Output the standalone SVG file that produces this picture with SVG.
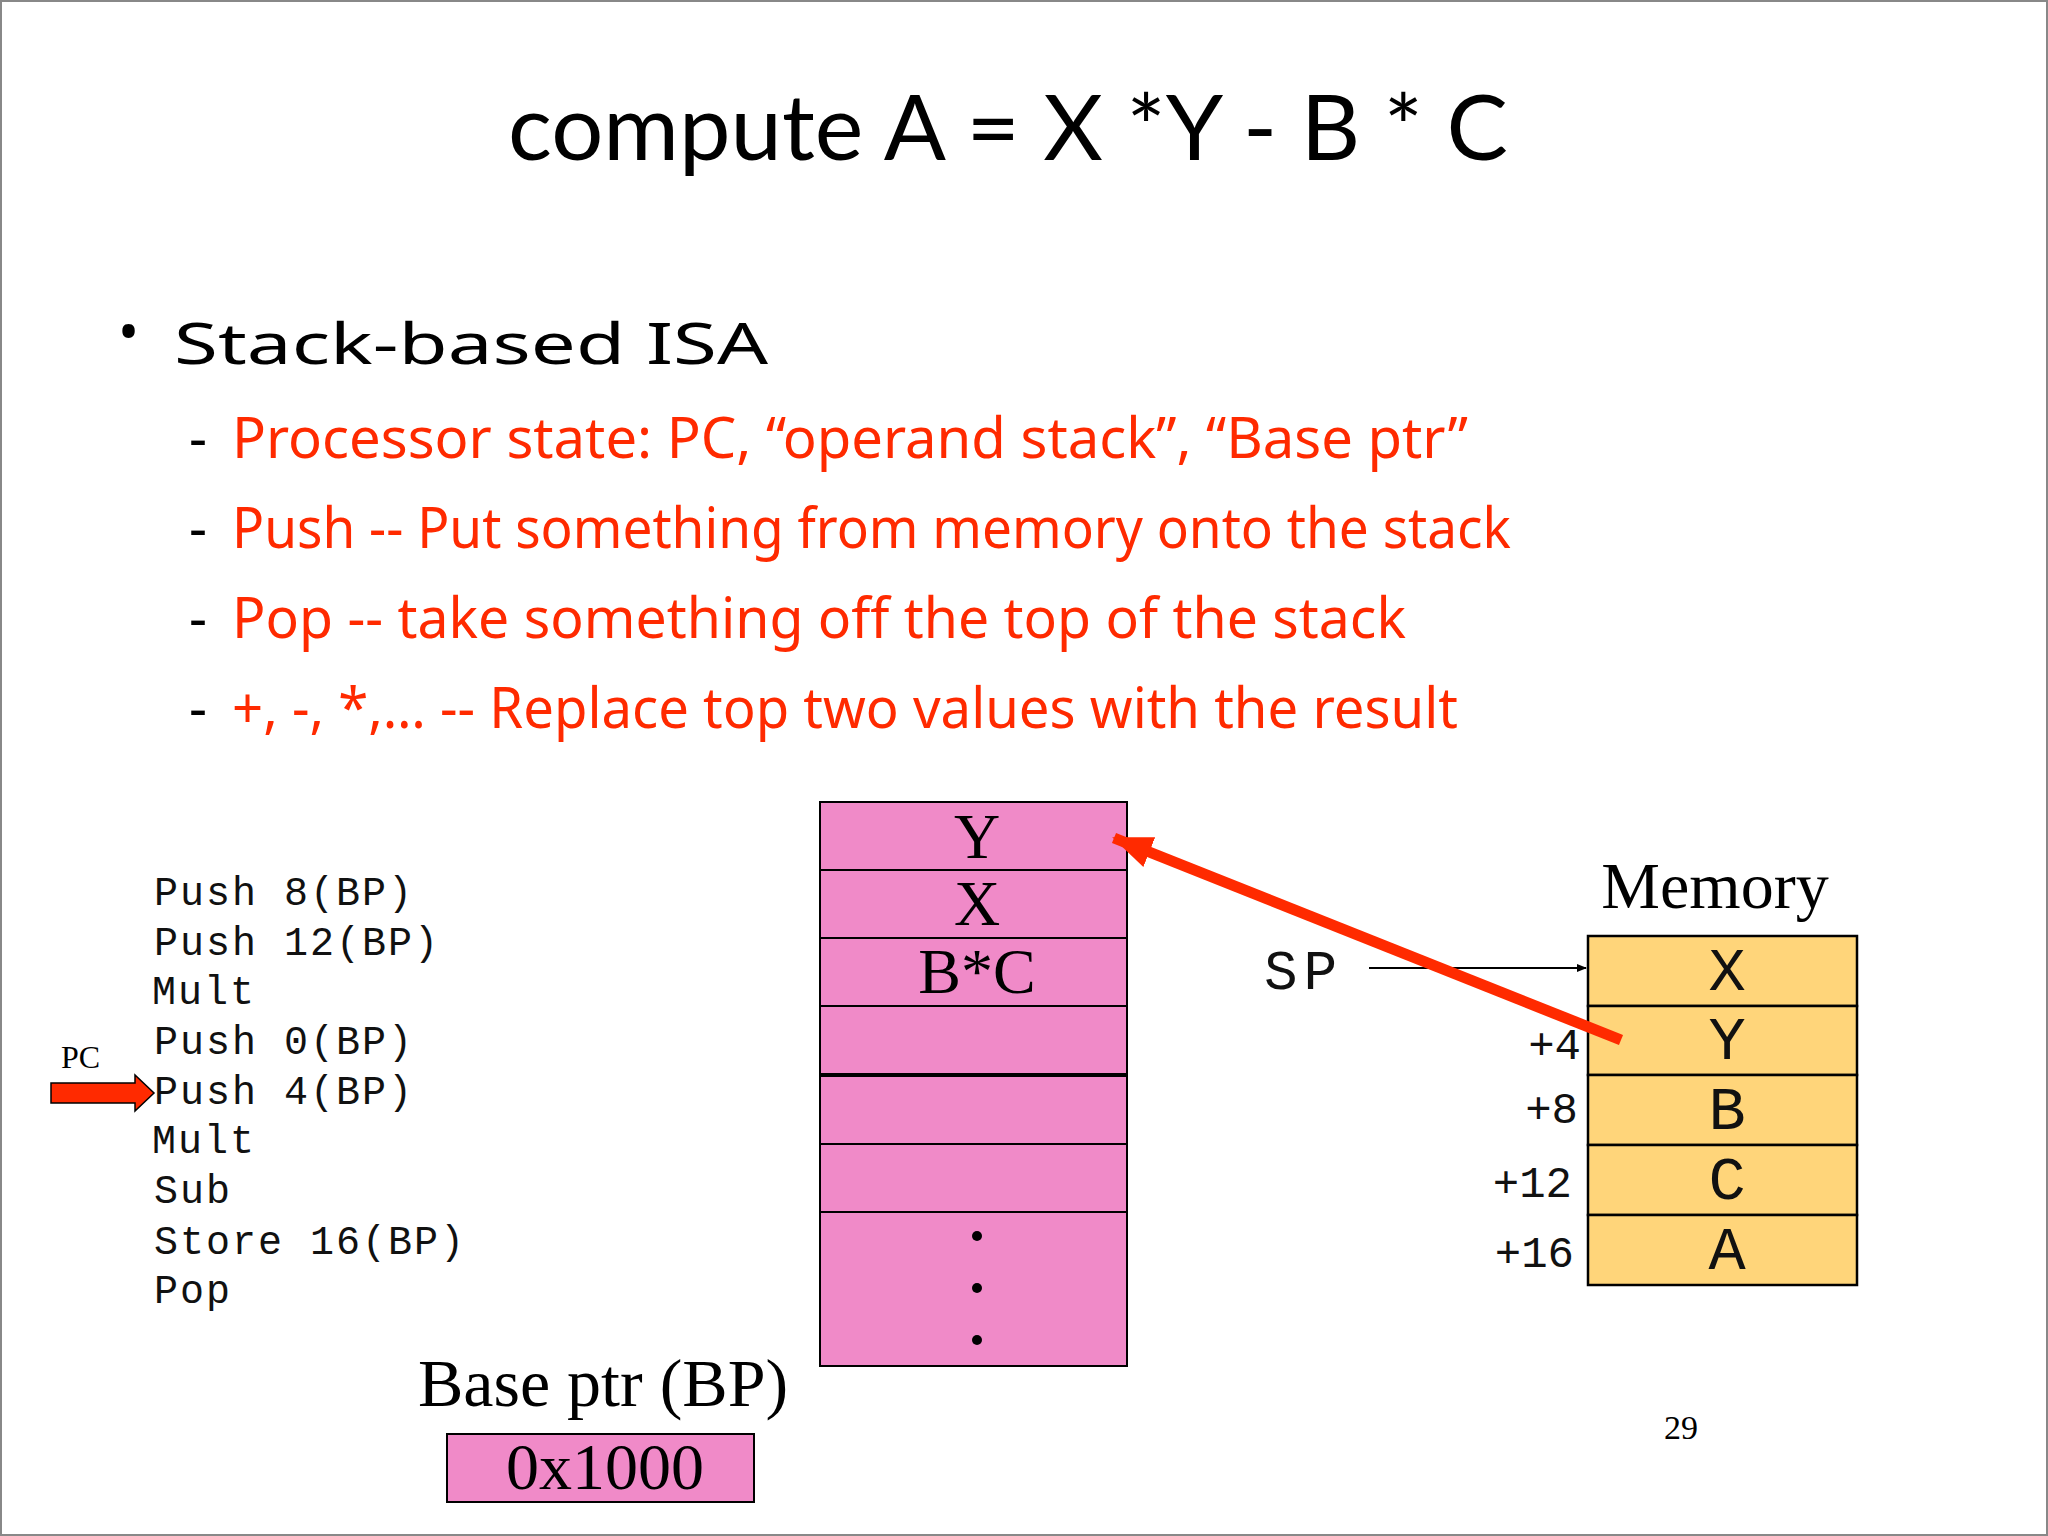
<svg xmlns="http://www.w3.org/2000/svg" width="2048" height="1536" viewBox="0 0 2048 1536">
<style>
.t{font-family:"Liberation Serif",serif;fill:#000}
.m{font-family:"Liberation Mono",monospace;fill:#111}
.r{font-family:"Noto Sans",sans-serif;fill:#ff2a00;font-size:56px}
.d{font-family:"Noto Sans",sans-serif;fill:#000;font-size:56px}
.pk{fill:#f08ac8;stroke:#000;stroke-width:2}
.yl{fill:#ffd57a;stroke:#000;stroke-width:2.5}
</style>
<defs>
<marker id="sa" markerWidth="10" markerHeight="10" refX="9" refY="5" orient="auto" markerUnits="userSpaceOnUse"><path d="M0,1 L10,5 L0,9 z" fill="#000"/></marker>
<marker id="ra" markerWidth="40" markerHeight="40" refX="38" refY="20" orient="auto" markerUnits="userSpaceOnUse"><path d="M0,4 L40,20 L0,36 z" fill="#ff2a00"/></marker>
</defs>
<rect x="1" y="1" width="2046" height="1534" fill="#fff" stroke="#888" stroke-width="2"/>
<text x="1008" y="160" text-anchor="middle" font-family="Lato,sans-serif" font-size="92" fill="#000">compute A = X *Y - B * C</text>
<text x="118" y="352" class="d" font-size="40">•</text>
<text x="174" y="364" class="d" font-size="76" textLength="594" lengthAdjust="spacingAndGlyphs">Stack-based ISA</text>
<g>
<text x="189" y="458" class="d">-</text><text x="232" y="458" class="r" textLength="1236" lengthAdjust="spacingAndGlyphs">Processor state:  PC,  “operand stack”, “Base ptr”</text>
<text x="189" y="548" class="d">-</text><text x="232" y="548" class="r" textLength="1279" lengthAdjust="spacingAndGlyphs">Push -- Put something from memory onto the stack</text>
<text x="189" y="638" class="d">-</text><text x="232" y="638" class="r" textLength="1174" lengthAdjust="spacingAndGlyphs">Pop -- take something off the top of the stack</text>
<text x="189" y="728" class="d">-</text><text x="232" y="728" class="r" textLength="1226" lengthAdjust="spacingAndGlyphs">+, -, *,… -- Replace top two values with the result</text>
</g>
<g id="code" class="m" font-size="40" letter-spacing="2">
<text x="154" y="905">Push 8(BP)</text>
<text x="154" y="955">Push 12(BP)</text>
<text x="152" y="1004">Mult</text>
<text x="154" y="1054">Push 0(BP)</text>
<text x="154" y="1104">Push 4(BP)</text>
<text x="152" y="1153">Mult</text>
<text x="154" y="1203">Sub</text>
<text x="154" y="1254">Store 16(BP)</text>
<text x="154" y="1303">Pop</text>
</g>
<g id="pc">
<text x="61" y="1068" class="t" font-size="32">PC</text>
<path d="M51,1083 H135 V1075 L154,1093 L135,1111 V1103 H51 z" fill="#ff2a00" stroke="#000" stroke-width="1.5"/>
</g>
<g id="stack">
<rect class="pk" x="820" y="802" width="307" height="564"/>
<line x1="820" y1="870" x2="1127" y2="870" stroke="#000" stroke-width="2"/>
<line x1="820" y1="938" x2="1127" y2="938" stroke="#000" stroke-width="2"/>
<line x1="820" y1="1006" x2="1127" y2="1006" stroke="#000" stroke-width="2"/>
<line x1="820" y1="1075" x2="1127" y2="1075" stroke="#000" stroke-width="4"/>
<line x1="820" y1="1144" x2="1127" y2="1144" stroke="#000" stroke-width="2"/>
<line x1="820" y1="1212" x2="1127" y2="1212" stroke="#000" stroke-width="2"/>
<text x="977" y="858" class="t" font-size="64" text-anchor="middle">Y</text>
<text x="977" y="925" class="t" font-size="64" text-anchor="middle">X</text>
<text x="977" y="993" class="t" font-size="64" text-anchor="middle">B*C</text>
<circle cx="977" cy="1236" r="5"/><circle cx="977" cy="1288" r="5"/><circle cx="977" cy="1340" r="5"/>
</g>
<g id="bp">
<text x="603" y="1406" class="t" font-size="68" text-anchor="middle">Base ptr (BP)</text>
<rect class="pk" x="447" y="1434" width="307" height="68"/>
<text x="605" y="1489" class="t" font-size="66" text-anchor="middle">0x1000</text>
</g>
<g id="memory">
<text x="1715" y="908" class="t" font-size="66" text-anchor="middle">Memory</text>
<rect class="yl" x="1588" y="936" width="269" height="70"/>
<rect class="yl" x="1588" y="1006" width="269" height="69"/>
<rect class="yl" x="1588" y="1075" width="269" height="70"/>
<rect class="yl" x="1588" y="1145" width="269" height="70"/>
<rect class="yl" x="1588" y="1215" width="269" height="70"/>
<g class="m" font-size="62" text-anchor="middle">
<text x="1727" y="990">X</text><text x="1727" y="1059">Y</text><text x="1727" y="1129">B</text><text x="1727" y="1199">C</text><text x="1727" y="1269">A</text>
</g>
<g class="m" font-size="44" text-anchor="end">
<text x="1581" y="1059">+4</text><text x="1578" y="1123">+8</text><text x="1572" y="1197">+12</text><text x="1574" y="1267">+16</text>
</g>
</g>
<text x="1264" y="989" class="m" font-size="56" letter-spacing="6">SP</text>
<g id="connectors">
<line x1="1369" y1="968" x2="1586" y2="968" stroke="#000" stroke-width="2" marker-end="url(#sa)"/>
<line x1="1621" y1="1040" x2="1114" y2="838" stroke="#ff2a00" stroke-width="11" marker-end="url(#ra)"/>
</g>
<text x="1681" y="1439" class="t" font-size="34" text-anchor="middle">29</text>
</svg>
